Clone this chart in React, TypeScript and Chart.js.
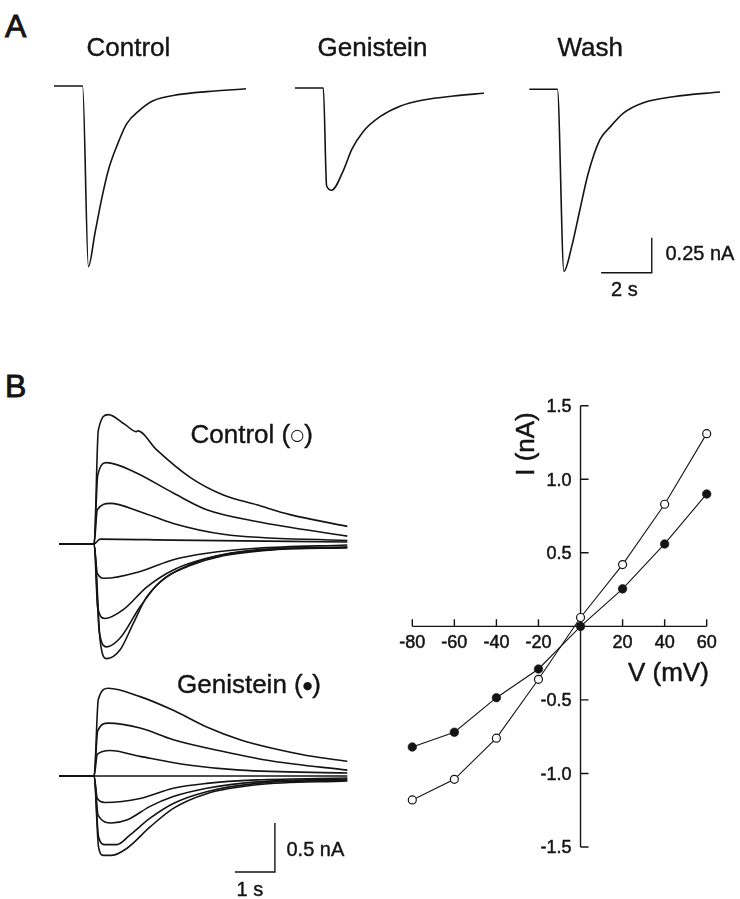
import React, { useEffect, useRef } from "react";
import { Chart, registerables } from "chart.js";

Chart.register(...registerables);

const FONT = '"Liberation Sans", Arial, Helvetica, sans-serif';
const INK = "#141414";

// ---------------- Panel A: single responses (time s, current nA) ----------------
const A_CONTROL_T = [0, 1.13, 1.36, 1.62, 1.88, 2.15, 2.48, 2.87, 3.4, 3.92, 4.98, 6.04, 7.59];
const A_CONTROL_I = [0, 0, -1.29, -1.05, -0.81, -0.6, -0.43, -0.27, -0.17, -0.105, -0.06, -0.04, -0.02];
const A_GENISTEIN_T = [0, 1.12, 1.25, 1.45, 1.91, 2.24, 2.7, 3.36, 4.15, 5.07, 6.26, 7.47];
const A_GENISTEIN_I = [0, 0, -0.7, -0.73, -0.59, -0.44, -0.31, -0.205, -0.13, -0.086, -0.057, -0.038];
const A_WASH_T = [0, 1.11, 1.37, 1.68, 2.0, 2.33, 2.79, 3.19, 3.72, 4.51, 5.69, 7.54];
const A_WASH_I = [0, 0, -1.3, -1.12, -0.86, -0.6, -0.36, -0.27, -0.17, -0.096, -0.053, -0.019];
const A_TITLES = ["Control", "Genistein", "Wash"];
const A_SCALE_T = 2; // s
const A_SCALE_I = 0.25; // nA

// ---------------- Panel B: current families (time s, current nA) ----------------
const B_CTRL_P60_T = [0, 0.87, 0.975, 1.225, 1.64, 1.93, 1.96, 2.435, 3.27, 4.1, 4.935, 5.77, 7.2];
const B_CTRL_P60_I = [0, 0, 1.16, 1.32, 1.22, 1.145, 1.155, 0.96, 0.68, 0.5, 0.4, 0.3, 0.18];
const B_CTRL_P40_T = [0, 0.87, 0.96, 1.185, 1.85, 2.85, 3.685, 4.935, 7.2];
const B_CTRL_P40_I = [0, 0, 0.7, 0.83, 0.74, 0.52, 0.35, 0.23, 0.08];
const B_CTRL_P20_T = [0, 0.87, 0.95, 1.27, 2.02, 2.85, 4.1, 7.2];
const B_CTRL_P20_I = [0, 0, 0.35, 0.415, 0.33, 0.21, 0.1, 0.034];
const B_CTRL_0_T = [0, 0.87, 1.02, 2.85, 7.2];
const B_CTRL_0_I = [0, 0, 0.05, 0.04, 0.02];
const B_CTRL_M20_T = [0, 0.87, 0.95, 1.14, 2.02, 2.85, 3.685, 4.935, 7.2];
const B_CTRL_M20_I = [0, 0, -0.3, -0.35, -0.28, -0.16, -0.095, -0.044, -0.01];
const B_CTRL_M40_T = [0, 0.87, 0.96, 1.14, 1.6, 2.185, 2.85, 3.685, 4.935, 7.2];
const B_CTRL_M40_I = [0, 0, -0.65, -0.76, -0.67, -0.44, -0.265, -0.146, -0.06, -0.03];
const B_CTRL_M60_T = [0, 0.87, 1.0, 1.185, 1.52, 2.02, 2.52, 3.27, 4.1, 5.35, 7.2];
const B_CTRL_M60_I = [0, 0, -0.9, -1.05, -0.96, -0.64, -0.385, -0.21, -0.11, -0.054, -0.03];
const B_CTRL_M80_T = [0, 0.87, 1.02, 1.185, 1.52, 1.85, 2.185, 2.685, 3.27, 4.1, 5.35, 7.2];
const B_CTRL_M80_I = [0, 0, -0.98, -1.17, -1.08, -0.81, -0.54, -0.335, -0.22, -0.12, -0.06, -0.04];

const B_GEN_P60_T = [0, 0.87, 0.975, 1.225, 2.02, 2.85, 3.685, 4.52, 5.35, 6.185, 7.2];
const B_GEN_P60_I = [0, 0, 0.78, 0.895, 0.81, 0.67, 0.5, 0.37, 0.28, 0.21, 0.15];
const B_GEN_P40_T = [0, 0.87, 0.96, 1.225, 2.02, 2.85, 4.1, 5.35, 7.2];
const B_GEN_P40_I = [0, 0, 0.46, 0.54, 0.49, 0.37, 0.25, 0.15, 0.06];
const B_GEN_P20_T = [0, 0.87, 0.95, 1.27, 2.02, 3.27, 4.52, 7.2];
const B_GEN_P20_I = [0, 0, 0.22, 0.26, 0.2, 0.11, 0.06, 0.03];
const B_GEN_0_T = [0, 0.87, 7.2];
const B_GEN_0_I = [0, 0, 0];
const B_GEN_M20_T = [0, 0.87, 0.95, 1.14, 2.02, 2.85, 3.685, 4.935, 7.2];
const B_GEN_M20_I = [0, 0, -0.23, -0.27, -0.23, -0.125, -0.075, -0.04, -0.02];
const B_GEN_M40_T = [0, 0.87, 0.97, 1.31, 1.685, 2.27, 2.85, 3.685, 4.935, 7.2];
const B_GEN_M40_I = [0, 0, -0.4, -0.48, -0.45, -0.31, -0.21, -0.125, -0.06, -0.03];
const B_GEN_M60_T = [0, 0.87, 0.98, 1.14, 1.435, 1.77, 2.27, 2.85, 3.685, 4.935, 7.2];
const B_GEN_M60_I = [0, 0, -0.62, -0.7, -0.7, -0.6, -0.43, -0.28, -0.16, -0.075, -0.04];
const B_GEN_M80_T = [0, 0.87, 0.98, 1.1, 1.31, 1.685, 2.27, 2.85, 3.685, 4.935, 7.2];
const B_GEN_M80_I = [0, 0, -0.72, -0.81, -0.81, -0.74, -0.52, -0.33, -0.18, -0.09, -0.05];
const B_SCALE_T = 1; // s
const B_SCALE_I = 0.5; // nA

// ---------------- Panel B: I-V relation ----------------
const IV_V = [-80, -60, -40, -20, 0, 20, 40, 60];
const IV_CONTROL = [-1.18, -1.04, -0.76, -0.36, 0.06, 0.42, 0.83, 1.31];
const IV_GENISTEIN = [-0.82, -0.72, -0.485, -0.29, 0.0, 0.255, 0.56, 0.9];
const IV_X_TICKS = [-80, -60, -40, -20, 20, 40, 60];
const IV_Y_TICKS = [-1.5, -1.0, -0.5, 0.5, 1.0, 1.5];

// ---------------- layout (pixels) ----------------
const A_PX_PER_S = 25.3;
const A_PX_PER_NA = 140;
const A_ORIGINS = [
  { x: 54, y: 86 },
  { x: 295, y: 88 },
  { x: 529.3, y: 89.3 },
];
const A_X_RANGE: [number, number] = [0, 8];
const A_Y_RANGE: [number, number] = [-1.4, 0.1];
const A_BAR_CORNER = { t: 4.84, i: -1.31 };

const B_PX_PER_S = 40;
const B_PX_PER_NA = 98;
const B_X_RANGE: [number, number] = [0, 7.2];
const B_CTRL_ORIGIN = { x: 59.3, y: 544 };
const B_CTRL_Y_RANGE: [number, number] = [-1.25, 1.4];
const B_GEN_ORIGIN = { x: 59.3, y: 776 };
const B_GEN_Y_RANGE: [number, number] = [-1.05, 1.0];
const B_BAR_CORNER = { t: 5.39, i: -0.98 };

const IV_AREA = { x: 412.3, y: 405.7, w: 294.4, h: 441.3 };

type Frame = {
  left: number;
  top: number;
  width: number;
  height: number;
  padding: { left: number; top: number; right: number; bottom: number };
};

function frameFor(x0: number, y0: number, w: number, h: number, m: number): Frame {
  const left = Math.floor(x0 - m);
  const top = Math.floor(y0 - m);
  const right = Math.ceil(x0 + w + m);
  const bottom = Math.ceil(y0 + h + m);
  return {
    left,
    top,
    width: right - left,
    height: bottom - top,
    padding: { left: x0 - left, top: y0 - top, right: right - (x0 + w), bottom: bottom - (y0 + h) },
  };
}

function traceFrame(
  origin: { x: number; y: number },
  xr: [number, number],
  yr: [number, number],
  pxS: number,
  pxI: number
): Frame {
  const x0 = origin.x + xr[0] * pxS;
  const y0 = origin.y - yr[1] * pxI;
  return frameFor(x0, y0, (xr[1] - xr[0]) * pxS, (yr[1] - yr[0]) * pxI, 14);
}

function scaleBarPlugin(corner: { t: number; i: number }, dt: number, di: number) {
  return {
    id: "scalebar",
    afterDatasetsDraw(chart: any) {
      const { ctx, scales } = chart;
      const xs = scales.x;
      const ys = scales.y;
      ctx.save();
      ctx.strokeStyle = INK;
      ctx.lineWidth = 1.4;
      ctx.beginPath();
      ctx.moveTo(xs.getPixelForValue(corner.t - dt), ys.getPixelForValue(corner.i));
      ctx.lineTo(xs.getPixelForValue(corner.t), ys.getPixelForValue(corner.i));
      ctx.lineTo(xs.getPixelForValue(corner.t), ys.getPixelForValue(corner.i + di));
      ctx.stroke();
      ctx.restore();
    },
  };
}

function traceConfig(
  series: [number[], number[]][],
  xr: [number, number],
  yr: [number, number],
  frame: Frame,
  extra: any[] = []
) {
  return {
    type: "line",
    data: {
      datasets: series.map(([t, i]) => ({
        data: t.map((x, k) => ({ x, y: i[k] })),
        borderColor: INK,
        borderWidth: 1.6,
        pointRadius: 0,
        cubicInterpolationMode: "monotone",
        fill: false,
        clip: false,
      })),
    },
    options: {
      responsive: false,
      animation: false,
      events: [],
      layout: { padding: frame.padding },
      plugins: { legend: { display: false }, tooltip: { enabled: false } },
      scales: {
        x: { type: "linear", min: xr[0], max: xr[1], display: false },
        y: { type: "linear", min: yr[0], max: yr[1], display: false },
      },
    },
    plugins: extra,
  };
}

function boldText(ctx: any, text: string, x: number, y: number) {
  ctx.fillText(text, x, y);
  ctx.strokeText(text, x, y);
}

const ivAxesPlugin = {
  id: "ivAxes",
  beforeDatasetsDraw(chart: any) {
    const { ctx, scales } = chart;
    const xs = scales.x;
    const ys = scales.y;
    const x0 = xs.getPixelForValue(0);
    const y0 = ys.getPixelForValue(0);
    ctx.save();
    ctx.strokeStyle = INK;
    ctx.fillStyle = INK;
    ctx.lineWidth = 1.4;
    ctx.beginPath();
    ctx.moveTo(x0, ys.getPixelForValue(IV_Y_TICKS[IV_Y_TICKS.length - 1]));
    ctx.lineTo(x0, ys.getPixelForValue(IV_Y_TICKS[0]));
    ctx.moveTo(xs.getPixelForValue(IV_X_TICKS[0]), y0);
    ctx.lineTo(xs.getPixelForValue(IV_X_TICKS[IV_X_TICKS.length - 1]), y0);
    IV_X_TICKS.forEach((v) => {
      const px = xs.getPixelForValue(v);
      ctx.moveTo(px, y0);
      ctx.lineTo(px, y0 - 7);
    });
    IV_Y_TICKS.forEach((v) => {
      const py = ys.getPixelForValue(v);
      ctx.moveTo(x0, py);
      ctx.lineTo(x0 + 8, py);
    });
    ctx.stroke();

    ctx.lineWidth = 0.5;
    ctx.lineJoin = "round";
    ctx.font = `18px ${FONT}`;
    ctx.textBaseline = "alphabetic";
    ctx.textAlign = "right";
    IV_Y_TICKS.forEach((v) => {
      boldText(ctx, v.toFixed(1), x0 - 9, ys.getPixelForValue(v) + 6.4);
    });
    ctx.textAlign = "center";
    IV_X_TICKS.forEach((v) => {
      boldText(ctx, String(v), xs.getPixelForValue(v), y0 + 22.1);
    });

    ctx.font = `26px ${FONT}`;
    ctx.textAlign = "left";
    boldText(ctx, "V (mV)", x0 + 47.4, y0 + 54.3);

    ctx.save();
    ctx.translate(x0 - 46.7, ys.getPixelForValue(1.5) + 38.3);
    ctx.rotate(-Math.PI / 2);
    ctx.textAlign = "center";
    boldText(ctx, "I (nA)", 0, 0);
    ctx.restore();
    ctx.restore();
  },
};

function ivConfig(frame: Frame) {
  const pts = (ys: number[]) => IV_V.map((x, k) => ({ x, y: ys[k] }));
  return {
    type: "line",
    data: {
      datasets: [
        {
          label: "Control",
          data: pts(IV_CONTROL),
          borderColor: INK,
          borderWidth: 1.1,
          pointRadius: 4,
          pointBorderWidth: 1.2,
          pointBackgroundColor: "#ffffff",
          pointBorderColor: INK,
          tension: 0,
          clip: false,
          order: 1,
        },
        {
          label: "Genistein",
          data: pts(IV_GENISTEIN),
          borderColor: INK,
          borderWidth: 1.1,
          pointRadius: 4.3,
          pointBorderWidth: 0.6,
          pointBackgroundColor: INK,
          pointBorderColor: INK,
          tension: 0,
          clip: false,
          order: 0,
        },
      ],
    },
    options: {
      responsive: false,
      animation: false,
      events: [],
      layout: { padding: frame.padding },
      plugins: { legend: { display: false }, tooltip: { enabled: false } },
      scales: {
        x: { type: "linear", min: -80, max: 60, display: false },
        y: { type: "linear", min: -1.5, max: 1.5, display: false },
      },
    },
    plugins: [ivAxesPlugin],
  };
}

function ChartCanvas({ frame, build }: { frame: Frame; build: (f: Frame) => any }) {
  const ref = useRef<HTMLCanvasElement | null>(null);
  useEffect(() => {
    if (!ref.current) return;
    const chart = new Chart(ref.current, build(frame));
    return () => chart.destroy();
  }, []);
  return (
    <canvas
      ref={ref}
      width={frame.width}
      height={frame.height}
      style={{ position: "absolute", left: frame.left, top: frame.top, width: frame.width, height: frame.height }}
    />
  );
}

function Label({ x, cy, size, children }: { x: number; cy: number; size: number; children: any }) {
  return (
    <div
      style={{
        position: "absolute",
        left: x,
        top: cy - 0.4885 * size,
        fontSize: size,
        lineHeight: 1,
        fontFamily: FONT,
        color: INK,
        whiteSpace: "nowrap",
        WebkitTextStroke: `${size > 28 ? 0.9 : 0.4}px ${INK}`,
      }}
    >
      {children}
    </div>
  );
}

const SYMBOL_FONT = '"DejaVu Sans", sans-serif';

export default function App() {
  const aSeries: [number[], number[]][] = [
    [A_CONTROL_T, A_CONTROL_I],
    [A_GENISTEIN_T, A_GENISTEIN_I],
    [A_WASH_T, A_WASH_I],
  ];
  const aFrames = A_ORIGINS.map((o) => traceFrame(o, A_X_RANGE, A_Y_RANGE, A_PX_PER_S, A_PX_PER_NA));

  const ctrlSeries: [number[], number[]][] = [
    [B_CTRL_P60_T, B_CTRL_P60_I],
    [B_CTRL_P40_T, B_CTRL_P40_I],
    [B_CTRL_P20_T, B_CTRL_P20_I],
    [B_CTRL_0_T, B_CTRL_0_I],
    [B_CTRL_M20_T, B_CTRL_M20_I],
    [B_CTRL_M40_T, B_CTRL_M40_I],
    [B_CTRL_M60_T, B_CTRL_M60_I],
    [B_CTRL_M80_T, B_CTRL_M80_I],
  ];
  const genSeries: [number[], number[]][] = [
    [B_GEN_P60_T, B_GEN_P60_I],
    [B_GEN_P40_T, B_GEN_P40_I],
    [B_GEN_P20_T, B_GEN_P20_I],
    [B_GEN_0_T, B_GEN_0_I],
    [B_GEN_M20_T, B_GEN_M20_I],
    [B_GEN_M40_T, B_GEN_M40_I],
    [B_GEN_M60_T, B_GEN_M60_I],
    [B_GEN_M80_T, B_GEN_M80_I],
  ];
  const ctrlFrame = traceFrame(B_CTRL_ORIGIN, B_X_RANGE, B_CTRL_Y_RANGE, B_PX_PER_S, B_PX_PER_NA);
  const genFrame = traceFrame(B_GEN_ORIGIN, B_X_RANGE, B_GEN_Y_RANGE, B_PX_PER_S, B_PX_PER_NA);
  const ivFrame = frameFor(IV_AREA.x, IV_AREA.y, IV_AREA.w, IV_AREA.h, 40);

  return (
    <div
      style={{
        position: "absolute",
        left: 0,
        top: 0,
        width: 740,
        height: 899,
        overflow: "hidden",
        background: "#ffffff",
      }}
    >
      {aSeries.map((s, k) => (
        <ChartCanvas
          key={A_TITLES[k]}
          frame={aFrames[k]}
          build={(f) =>
            traceConfig(
              [s],
              A_X_RANGE,
              A_Y_RANGE,
              f,
              k === 2 ? [scaleBarPlugin(A_BAR_CORNER, A_SCALE_T, A_SCALE_I)] : []
            )
          }
        />
      ))}
      <ChartCanvas frame={ctrlFrame} build={(f) => traceConfig(ctrlSeries, B_X_RANGE, B_CTRL_Y_RANGE, f)} />
      <ChartCanvas
        frame={genFrame}
        build={(f) =>
          traceConfig(genSeries, B_X_RANGE, B_GEN_Y_RANGE, f, [scaleBarPlugin(B_BAR_CORNER, B_SCALE_T, B_SCALE_I)])
        }
      />
      <ChartCanvas frame={ivFrame} build={ivConfig} />

      <Label x={5} cy={25.5} size={32}>A</Label>
      <Label x={86.5} cy={46.5} size={26}>{A_TITLES[0]}</Label>
      <Label x={317.5} cy={46.5} size={26}>{A_TITLES[1]}</Label>
      <Label x={557.5} cy={46.5} size={26}>{A_TITLES[2]}</Label>
      <Label x={665.5} cy={252.7} size={20}>{`${A_SCALE_I} nA`}</Label>
      <Label x={611} cy={289} size={20}>{`${A_SCALE_T} s`}</Label>

      <Label x={5} cy={386} size={32}>B</Label>
      <Label x={190.5} cy={434} size={26}>
        Control (
        <span
          style={{
            fontFamily: SYMBOL_FONT,
            fontSize: 16,
            position: "relative",
            top: -3,
            WebkitTextStroke: "0px",
          }}
        >
          ○
        </span>
        )
      </Label>
      <Label x={177} cy={684} size={26}>
        Genistein (
        <span
          style={{ fontFamily: SYMBOL_FONT, fontSize: 11, position: "relative", top: -4, WebkitTextStroke: "0px" }}
        >
          ●
        </span>
        )
      </Label>
      <Label x={286.5} cy={848.3} size={20}>{`${B_SCALE_I} nA`}</Label>
      <Label x={236.5} cy={889} size={20}>{`${B_SCALE_T} s`}</Label>
    </div>
  );
}
